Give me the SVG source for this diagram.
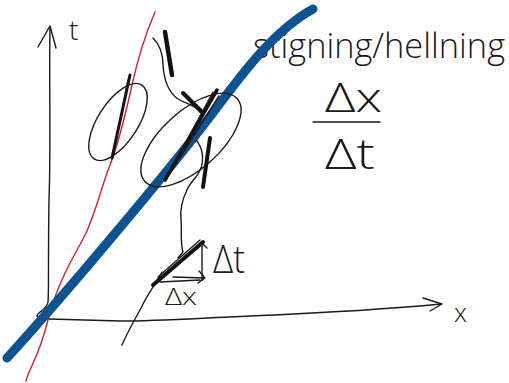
<svg xmlns="http://www.w3.org/2000/svg" width="509" height="383" viewBox="0 0 509 383">
<style>
.ink{fill:none;stroke:#1a1a1a;stroke-width:1.4;stroke-linecap:round;stroke-linejoin:round}
.bold{fill:none;stroke:#111;stroke-linecap:round;stroke-linejoin:round}
.hand{font-family:"Open Sans","DejaVu Sans",sans-serif;font-weight:300;fill:#1a1a1a}
</style>
<rect width="509" height="383" fill="#fff"/>
<g id="axes">
<path class="ink" d="M50,27 C49,80 51,150 49,200 C48,260 49,290 48,302 C47,310 37,312 37,316 Q40,319 50,319 L120,321 C160,321 200,318 250,316 C320,313 390,309 441,304"/>
<path class="ink" d="M38,47 L50,26 L56,48"/>
<path class="ink" d="M423,298 L442,304 L430,311"/>
<text class="hand" x="69" y="40" font-size="28">t</text>
<text class="hand" x="454" y="322" font-size="26">x</text>
</g>
<g id="label-title">
<text class="hand" x="253" y="58" font-size="35" textLength="252" lengthAdjust="spacingAndGlyphs">stigning/hellning</text>
</g>
<g id="fraction">
<text class="hand" x="325" y="112" font-size="40" textLength="57" lengthAdjust="spacingAndGlyphs">Δx</text>
<line class="ink" x1="313" y1="122" x2="380" y2="122"/>
<text class="hand" x="325" y="169" font-size="42" textLength="50" lengthAdjust="spacingAndGlyphs">Δt</text>
</g>
<g id="red-line">
<path d="M155,12 C145,35 138,58 132,85 S118,145 110,165 S95,215 85,235 S58,280 48,320 S30,365 26,381" fill="none" stroke="#d41f2b" stroke-width="1.4" stroke-linecap="round"/>
</g>
<g id="blue-line">
<path d="M7,358 C60,300 170,170 215,110 C245,70 275,30 313,9" fill="none" stroke="#0d5391" stroke-width="9" stroke-linecap="round" stroke-linejoin="round"/>
</g>
<g id="ellipse-left">
<ellipse class="ink" cx="118" cy="122" rx="44" ry="20" transform="rotate(-57 118 122)"/>
<path class="bold" stroke-width="3" d="M130,75 L112,158"/>
<path class="ink" d="M128,80 L114,152"/>
</g>
<g id="ellipse-right">
<ellipse class="ink" cx="191" cy="140" rx="62" ry="29" transform="rotate(-42 191 140)"/>
<path class="bold" stroke-width="4" d="M183,93 L203,113"/>
<path class="bold" stroke-width="3.5" d="M217,90 L165,180"/>
<path class="ink" d="M213,92 L168,175 M219,96 L172,170"/>
<path class="bold" stroke-width="4" d="M210,138 L203,187"/>
</g>
<g id="worldline">
<path class="bold" stroke-width="4.5" d="M165,32 L172,75"/>
<path class="ink" d="M153,38 C160,45 163,55 163,65 C164,80 168,92 178,99 C186,104 194,104 200,112"/>
<path class="ink" d="M196,140 C205,150 203,165 200,170 C197,178 190,182 187,190 C182,200 180,210 181,220 C182,232 180,242 183,252 L178,258"/>
<path class="ink" d="M162,272 C155,285 148,293 141,308 C133,323 127,333 122,345"/>
</g>
<g id="tangent-triangle">
<path class="bold" stroke-width="4" d="M153,285 L203,242"/>
<path class="ink" d="M158,277 L200,240"/>
<path class="ink" d="M202,280 L202,243 M197,249 L202,243 L207,248"/>
<path class="ink" d="M173,277 L205,278 M199,271 L205,278 L198,283 M160,282 L200,280"/>
<text class="hand" x="213" y="273" font-size="38" textLength="32" lengthAdjust="spacingAndGlyphs">Δt</text>
<text class="hand" x="165" y="305" font-size="24" textLength="32" lengthAdjust="spacingAndGlyphs">Δx</text>
</g>
</svg>
